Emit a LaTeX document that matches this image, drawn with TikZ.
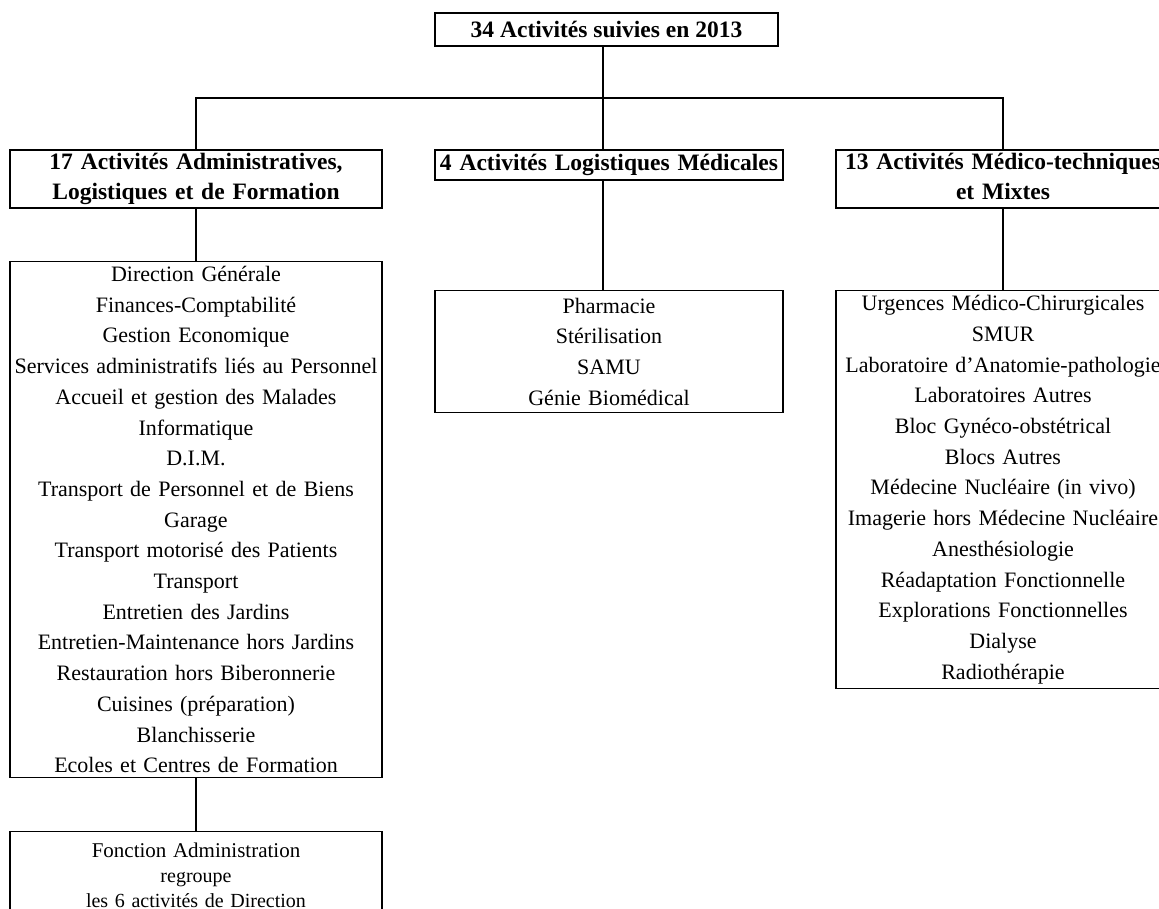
\documentclass[tikz,border=0pt]{standalone}
\usepackage{fontspec}
\setmainfont{Liberation Serif}
\begin{document}
\begin{tikzpicture}[x=1pt,y=-1pt,line width=1.2pt,
    head/.style={draw,align=center,inner sep=1pt,font=\bfseries\fontsize{23.5}{30}\selectfont},
    list/.style={draw,align=center,inner sep=3pt,anchor=north,font=\fontsize{22}{30.7}\selectfont}]
    \useasboundingbox (0,0) rectangle (1159,908);
    \clip (0,0) rectangle (1159,908);
    \node[head,minimum width=343,minimum height=33] (top) at (606.5,29.5) {34 Activités suivies en 2013};
    \node[head,text width=370,minimum height=58] (lhead) at (196,179) {17 Activités Administratives,\\Logistiques et de Formation};
    \node[head,text width=346,minimum height=30] (mhead) at (609,165) {4 Activités Logistiques Médicales};
    \node[head,text width=332,minimum height=58] (rhead) at (1003,179) {13 Activités Médico-techniques\\et Mixtes\vphantom{q}};
    \node[list,text width=366,minimum height=516] (llist) at (196,261) {Direction Générale\\Finances-Comptabilité\\Gestion Economique\\Services administratifs liés au Personnel\\Accueil et gestion des Malades\\Informatique\\D.I.M.\\Transport de Personnel et de Biens\\Garage\\Transport motorisé des Patients\\Transport\\Entretien des Jardins\\Entretien-Maintenance hors Jardins\\Restauration hors Biberonnerie\\Cuisines (préparation)\\Blanchisserie\\Ecoles et Centres de Formation};
    \node[list,text width=342,minimum height=122] (mlist) at (609,290) {Pharmacie\\Stérilisation\\SAMU\\Génie Biomédical};
    \node[list,text width=328,minimum height=398] (rlist) at (1003,290) {Urgences Médico-Chirurgicales\\SMUR\\Laboratoire d'Anatomie-pathologie\\Laboratoires Autres\\Bloc Gynéco-obstétrical\\Blocs Autres\\Médecine Nucléaire (in vivo)\\Imagerie hors Médecine Nucléaire\\Anesthésiologie\\Réadaptation Fonctionnelle\\Explorations Fonctionnelles\\Dialyse\\Radiothérapie};
    \node[list,text width=366,minimum height=88,font=\fontsize{20}{25}\selectfont] (fadmin) at (196,831) {{\fontsize{21}{25}\selectfont Fonction Administration}\\regroupe\\les 6 activités de Direction};
    \coordinate (bus) at (603,98);
    \draw (bus |- top.south) -- (bus);
    \draw (lhead.north) |- (bus) -| (rhead.north);
    \draw (bus) -- (bus |- mhead.north);
    \draw (lhead.south) -- (llist.north);
    \draw (bus |- mhead.south) -- (bus |- mlist.north);
    \draw (rhead.south) -- (rlist.north);
    \draw (llist.south) -- (fadmin.north);
\end{tikzpicture}
\end{document}
